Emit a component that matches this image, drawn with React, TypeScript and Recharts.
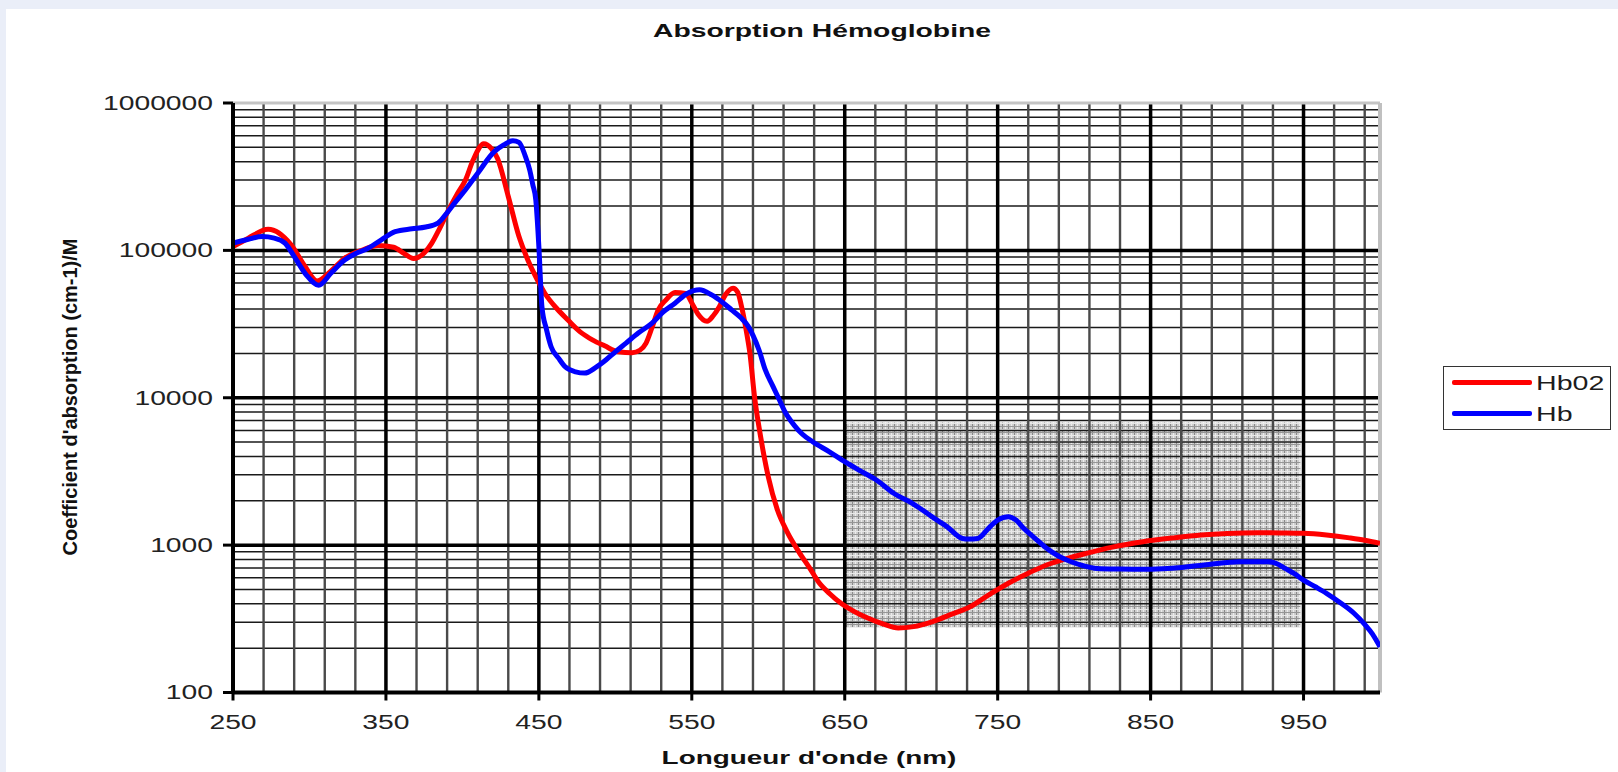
import React from "react";
import {
  LineChart,
  Line,
  XAxis,
  YAxis,
  ReferenceLine,
  ReferenceArea,
  Legend,
} from "recharts";

// wavelength (nm) / molar absorption
const hbo2Nm = [
  250, 260, 273, 288, 297, 305, 315, 323, 335, 345, 355, 362, 368, 375, 380, 385,
  391, 397, 402, 407, 414, 419, 423, 430, 437, 443, 448, 454, 462, 469, 477, 485,
  493, 502, 511, 516, 520, 524, 528, 533, 539, 546, 550, 554, 560, 564, 568, 572,
  577, 580, 583, 586, 588, 591, 595, 600, 606, 612, 620, 627, 633, 640, 648, 656, 665,
  675, 685, 695, 707, 720, 732, 745, 757, 770, 782, 795, 808, 825, 845, 865, 883,
  900, 920, 935, 950, 965, 980, 990, 1000,
];
const hbo2Val = [
  106000, 121000, 139000, 109000, 78000, 62000, 74000, 88500, 101000, 108000, 105000, 95000, 88000, 96000, 112000, 140000,
  188000, 245000, 300000, 410000, 530000, 490000, 420000, 232000, 124000, 85000, 66000, 51000, 40000, 33700, 28000, 24700,
  22500, 20500, 20200, 21000, 23400, 30000, 39400, 46000, 51700, 51000, 44000, 37000, 33000, 36000, 41500, 50000,
  55400, 52000, 39500, 27000, 20000, 10200, 5440, 2910, 1730, 1250, 900, 700, 560, 470, 400, 355, 320,
  292, 274, 280, 302, 340, 382, 465, 551, 645, 733, 810, 880, 970, 1055, 1120, 1171,
  1200, 1214, 1210, 1202, 1170, 1120, 1080, 1028,
];

const hbNm = [
  250, 260, 269, 277, 284, 290, 298, 306, 314, 323, 330, 338, 347, 356, 367, 376,
  384, 390, 395, 402, 410, 421, 427, 433, 437, 441, 444, 446, 448, 450, 452, 455,
  458, 463, 467, 474, 480, 487, 494, 500, 507, 515, 524, 531, 539, 547, 555, 563,
  570, 576, 582, 587, 590, 594, 598, 603, 607, 611, 617, 622, 629, 640, 650, 659,
  670, 682, 695, 707, 717, 727, 731, 737, 744, 750, 757, 762, 767, 775, 782, 790,
  798, 806, 815, 830, 845, 858, 870, 888, 908, 927, 933, 938, 944, 950, 958, 965,
  975, 983, 990, 995, 1000,
];
const hbVal = [
  112000, 119000, 124000, 121000, 112000, 91000, 68000, 58000, 70000, 86000, 95000, 103000, 118000, 134000, 140000, 144000,
  153000, 180000, 210000, 258000, 334000, 469000, 520000, 555000, 540000, 440000, 352000, 280000, 220000, 106000, 41500, 29000,
  22200, 18500, 16300, 15000, 14700, 16000, 18100, 20500, 23500, 27500, 32100, 38000, 43800, 51000, 54000, 49900,
  44500, 39500, 35000, 30400, 26500, 21000, 15500, 12000, 9800, 8000, 6500, 5700, 5030, 4300, 3680, 3240,
  2800, 2250, 1900, 1560, 1330, 1110, 1100, 1110, 1300, 1480, 1560, 1480, 1300, 1100, 951, 840,
  771, 725, 695, 688, 685, 692, 706, 740, 771, 771, 745, 695, 640, 579, 520, 471,
  400, 345, 290, 250, 204,
];

const seriesNames = ["Hb02", "Hb"];
const xTicks = [250, 350, 450, 550, 650, 750, 850, 950];
const yTicks = [100, 1000, 10000, 100000, 1000000];
const shadeX = [650, 948];
const shadeY = [275, 6800];

const hbo2Data = hbo2Nm.map((nm, i) => ({ nm, v: hbo2Val[i] }));
const hbData = hbNm.map((nm, i) => ({ nm, v: hbVal[i] }));

// log-paper grid
const minorX: number[] = [];
for (let nm = 270; nm < 1000; nm += 20) if ((nm - 50) % 100 !== 0) minorX.push(nm);
const majorX = xTicks.slice(1);
const minorY: number[] = [];
[100, 1000, 10000, 100000].forEach((d) => {
  for (let k = 2; k <= 9; k++) minorY.push(k * d);
});
const majorY = [1000, 10000, 100000];

const FONT = '"Liberation Sans", Arial, sans-serif';

const YTick = ({ x, y, payload }: any) => (
  <text
    transform={`translate(${x - 8},${y}) scale(1.45,1)`}
    textAnchor="end"
    dominantBaseline="central"
    fontFamily={FONT}
    fontSize={19.5}
    fill="#222"
  >
    {payload.value}
  </text>
);

const XTick = ({ x, y, payload }: any) => (
  <text
    transform={`translate(${x},${y + 26}) scale(1.45,1)`}
    textAnchor="middle"
    fontFamily={FONT}
    fontSize={19.5}
    fill="#222"
  >
    {payload.value}
  </text>
);

const renderLegend = (props: any) => {
  const items = [...(props.payload || [])].sort(
    (a: any, b: any) => seriesNames.indexOf(a.value) - seriesNames.indexOf(b.value)
  );
  return (
    <div
      style={{
        border: "1.5px solid #333",
        background: "#fff",
        width: 168,
        height: 64,
        boxSizing: "border-box",
        paddingLeft: 8,
        fontFamily: FONT,
      }}
    >
      {items.map((p: any) => (
        <div key={p.value} style={{ display: "flex", alignItems: "center", height: 31 }}>
          <span style={{ width: 80, height: 5, background: p.color, borderRadius: 2 }} />
          <span
            style={{
              marginLeft: 4,
              fontSize: 21,
              lineHeight: 1,
              color: "#1c1c1c",
              display: "inline-block",
              transform: "scaleX(1.36)",
              transformOrigin: "left center",
            }}
          >
            {p.value}
          </span>
        </div>
      ))}
    </div>
  );
};

export default function App() {
  return (
    <div
      style={{
        position: "fixed",
        left: 0,
        top: 0,
        width: 1618,
        height: 772,
        background: "#eaeef8",
        overflow: "hidden",
      }}
    >
      <div style={{ position: "absolute", left: 6, top: 9, right: 0, bottom: 0, background: "#fff" }} />
      <div
        style={{
          position: "absolute",
          left: 822,
          top: 20,
          transform: "translateX(-50%) scaleX(1.53)",
          fontFamily: FONT,
          fontWeight: "bold",
          fontSize: 18.5,
          color: "#111",
          whiteSpace: "nowrap",
        }}
      >
        Absorption Hémoglobine
      </div>
      <div style={{ position: "absolute", left: 0, top: 0 }}>
        <LineChart
          width={1618}
          height={772}
          margin={{ top: 103, right: 238, left: 133, bottom: 39.5 }}
        >
          <defs>
            <pattern id="shade" patternUnits="userSpaceOnUse" width="6" height="6">
              <rect width="6" height="6" fill="#cdcdcd" />
              <line x1="0.5" y1="0" x2="0.5" y2="6" stroke="#8a8a8a" strokeWidth="1" />
              <line x1="3.5" y1="0" x2="3.5" y2="6" stroke="#ececec" strokeWidth="1" />
              <line x1="0" y1="0.5" x2="6" y2="0.5" stroke="#969696" strokeWidth="1" />
              <line x1="0" y1="3.5" x2="6" y2="3.5" stroke="#e8e8e8" strokeWidth="1" />
            </pattern>
          </defs>
          <XAxis
            dataKey="nm"
            type="number"
            domain={[250, 1000]}
            ticks={xTicks}
            allowDataOverflow
            height={40}
            tick={<XTick />}
            tickSize={8}
            tickLine={{ stroke: "#000", strokeWidth: 3 }}
            axisLine={{ stroke: "#000", strokeWidth: 4 }}
            label={{
              content: () => (
                <text
                  transform="translate(809,764) scale(1.55,1)"
                  textAnchor="middle"
                  fontFamily={FONT}
                  fontWeight="bold"
                  fontSize={18}
                  fill="#111"
                >
                  Longueur d'onde (nm)
                </text>
              ),
            }}
          />
          <YAxis
            type="number"
            scale="log"
            domain={[100, 1000000]}
            ticks={yTicks}
            allowDataOverflow
            width={100}
            tick={<YTick />}
            tickSize={10}
            tickLine={{ stroke: "#000", strokeWidth: 3 }}
            axisLine={{ stroke: "#000", strokeWidth: 4 }}
            label={{
              content: () => (
                <text
                  transform="translate(70,397) rotate(-90)"
                  textAnchor="middle"
                  dominantBaseline="central"
                  fontFamily={FONT}
                  fontWeight="bold"
                  fontSize={20}
                  fill="#111"
                >
                  Coefficient d'absorption (cm-1)/M
                </text>
              ),
            }}
          />
          <ReferenceArea
            x1={shadeX[0]}
            x2={shadeX[1]}
            y1={shadeY[0]}
            y2={shadeY[1]}
            fill="url(#shade)"
            fillOpacity={1}
            stroke="none"
            ifOverflow="visible"
          />
          {minorY.map((v) => (
            <ReferenceLine key={`my${v}`} y={v} stroke="#1a1a1a" strokeWidth={1.5} />
          ))}
          {minorX.map((v) => (
            <ReferenceLine key={`mx${v}`} x={v} stroke="#4a4a4a" strokeWidth={2.4} />
          ))}
          {majorY.map((v) => (
            <ReferenceLine key={`My${v}`} y={v} stroke="#000" strokeWidth={3.5} />
          ))}
          {majorX.map((v) => (
            <ReferenceLine key={`Mx${v}`} x={v} stroke="#000" strokeWidth={3.5} />
          ))}
          <ReferenceLine y={1000000} stroke="#c4c4c4" strokeWidth={3} />
          <ReferenceLine x={1000} stroke="#c0c0c0" strokeWidth={4} />
          <Line
            data={hbo2Data}
            dataKey="v"
            name={seriesNames[0]}
            type="monotone"
            stroke="#ff0000"
            strokeWidth={5}
            dot={false}
            isAnimationActive={false}
          />
          <Line
            data={hbData}
            dataKey="v"
            name={seriesNames[1]}
            type="monotone"
            stroke="#0000ff"
            strokeWidth={5}
            dot={false}
            isAnimationActive={false}
          />
          <Legend
            layout="horizontal"
            align="center"
            verticalAlign="middle"
            content={renderLegend}
            wrapperStyle={{ position: "absolute", left: 1443, top: 366, width: 168, height: 64 }}
          />
        </LineChart>
      </div>
    </div>
  );
}
